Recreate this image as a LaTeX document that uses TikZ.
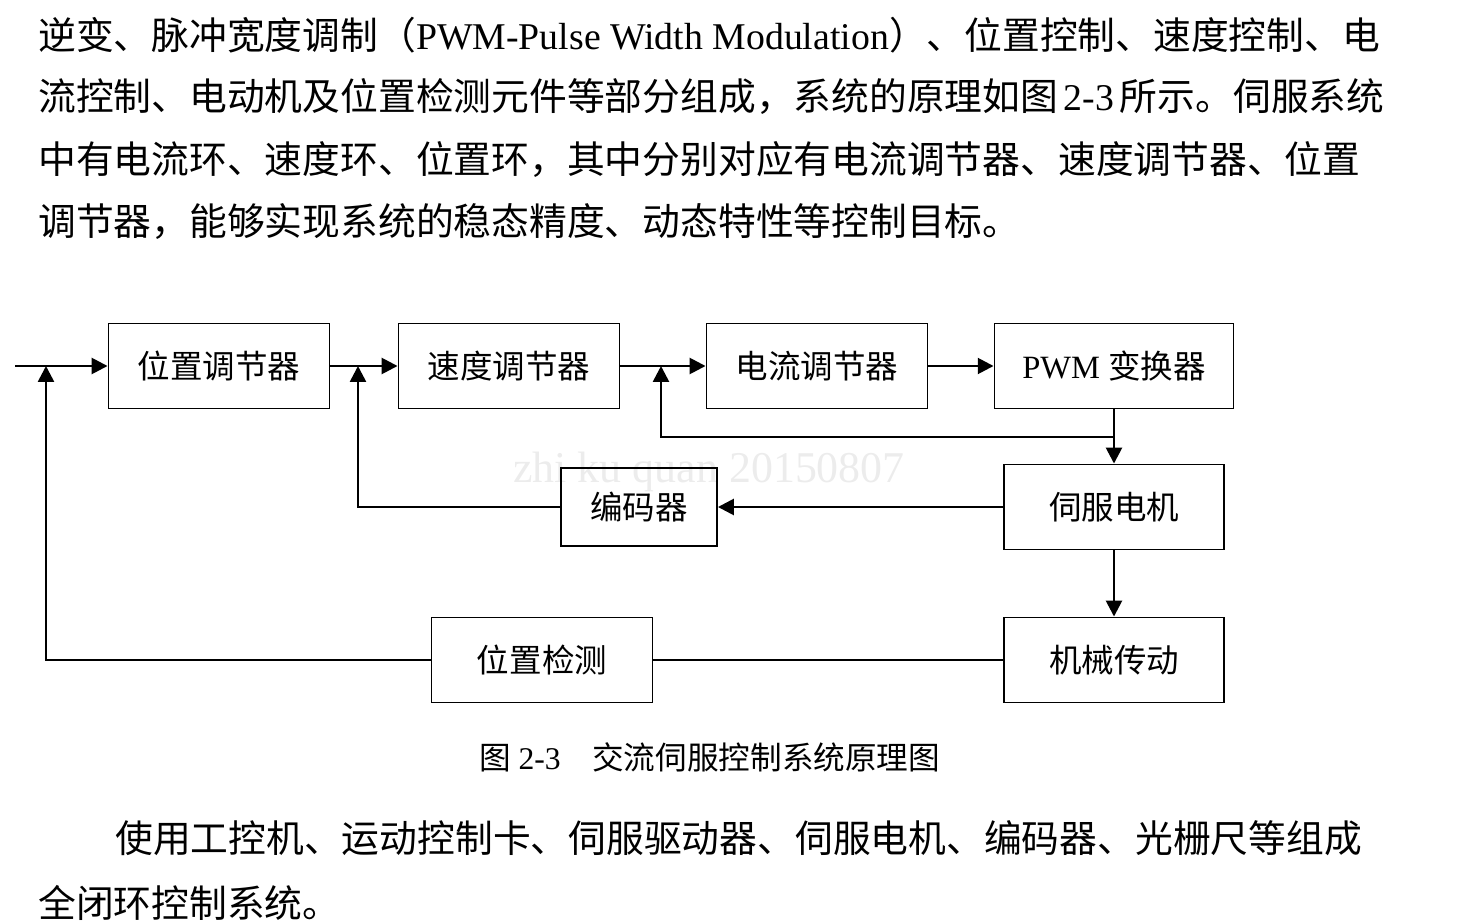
\documentclass[tikz,border=0pt]{standalone}
\usepackage{fontspec}
\setmainfont{Liberation Serif}
\newfontfamily\cjk{Noto Sans CJK SC}
\usetikzlibrary{arrows.meta}

\begin{document}
\begin{tikzpicture}[x=0.02cm, y=-0.02cm,
    box/.style={draw, line width=1.1pt, inner sep=0pt, minimum height=1.7cm, font=\cjk\fontsize{18.5}{20}\selectfont},
    sig/.style={line width=1.5pt},
    arr/.style={sig, -{Triangle[length=9pt, width=9pt]}},
    txt/.style={anchor=west, inner sep=0pt, font=\fontsize{21.5}{25}\selectfont}]
    \useasboundingbox (0,0) rectangle (1482,922);

    % Paragraph above the figure
    \node[txt] (l1) at (38,35) {\makebox[26.84cm][s]{{\cjk 逆变、脉冲宽度调制（}PWM-Pulse Width Modulation{\cjk ）、位置控制、速度控制、电}}};
    \node[txt] (l2) at (38,97) {\makebox[26.84cm][s]{{\cjk 流控制、电动机及位置检测元件等部分组成，系统的原理如图}\hspace{0.15em}2-3\hspace{0.15em}{\cjk 所示。伺服系统}}};
    \node[txt] (l3) at (38,160) {\cjk 中有电流环、速度环、位置环，其中分别对应有电流调节器、速度调节器、位置};
    \node[txt] (l4) at (38,222) {\cjk 调节器，能够实现系统的稳态精度、动态特性等控制目标。};

    % Watermark
    \node[text=gray!15, font=\fontsize{25}{27}\selectfont] (wm) at (709,472) {zhi ku quan 20150807};

    % Blocks
    \node[box, minimum width=4.42cm] (pc) at (219,366) {位置调节器};
    \node[box, minimum width=4.42cm] (sc) at (509,366) {速度调节器};
    \node[box, minimum width=4.42cm] (cc) at (817,366) {电流调节器};
    \node[box, minimum width=4.78cm] (pwm) at (1114,366) {{\rmfamily PWM }变换器};
    \node[box, minimum width=4.4cm] (sm) at (1114,507) {伺服电机};
    \node[box, minimum width=3.12cm, minimum height=1.56cm] (enc) at (639,507) {编码器};
    \node[box, minimum width=4.4cm] (mt) at (1114,660) {机械传动};
    \node[box, minimum width=4.42cm] (pd) at (542,660) {位置检测};

    % Junction points
    \coordinate (in) at (15,366);
    \coordinate (j1) at (46,366);
    \coordinate (j2) at (358,366);
    \coordinate (j3) at (661,366);
    \coordinate (k) at (1114,437);

    % Forward path
    \draw[arr] (in) -- (pc.west);
    \draw[arr] (pc.east) -- (sc.west);
    \draw[arr] (sc.east) -- (cc.west);
    \draw[arr] (cc.east) -- (pwm.west);
    \draw[arr] (pwm.south) -- (sm.north);
    \draw[arr] (sm.south) -- (mt.north);

    % Feedback loops
    \draw[arr] (k) -| (j3);
    \draw[arr] (sm.west) -- (enc.east);
    \draw[arr] (enc.west) -| (j2);
    \draw[sig] (mt.west) -- (pd.east);
    \draw[arr] (pd.west) -| (j1);

    % Caption and following text
    \node[font=\cjk\fontsize{18}{20}\selectfont] (cap) at (710,757) {图 {\rmfamily 2-3}\quad 交流伺服控制系统原理图};
    \node[txt] (p1) at (115,838) {\cjk 使用工控机、运动控制卡、伺服驱动器、伺服电机、编码器、光栅尺等组成};
    \node[txt] (p2) at (38,903) {\cjk 全闭环控制系统。};
\end{tikzpicture}
\end{document}
